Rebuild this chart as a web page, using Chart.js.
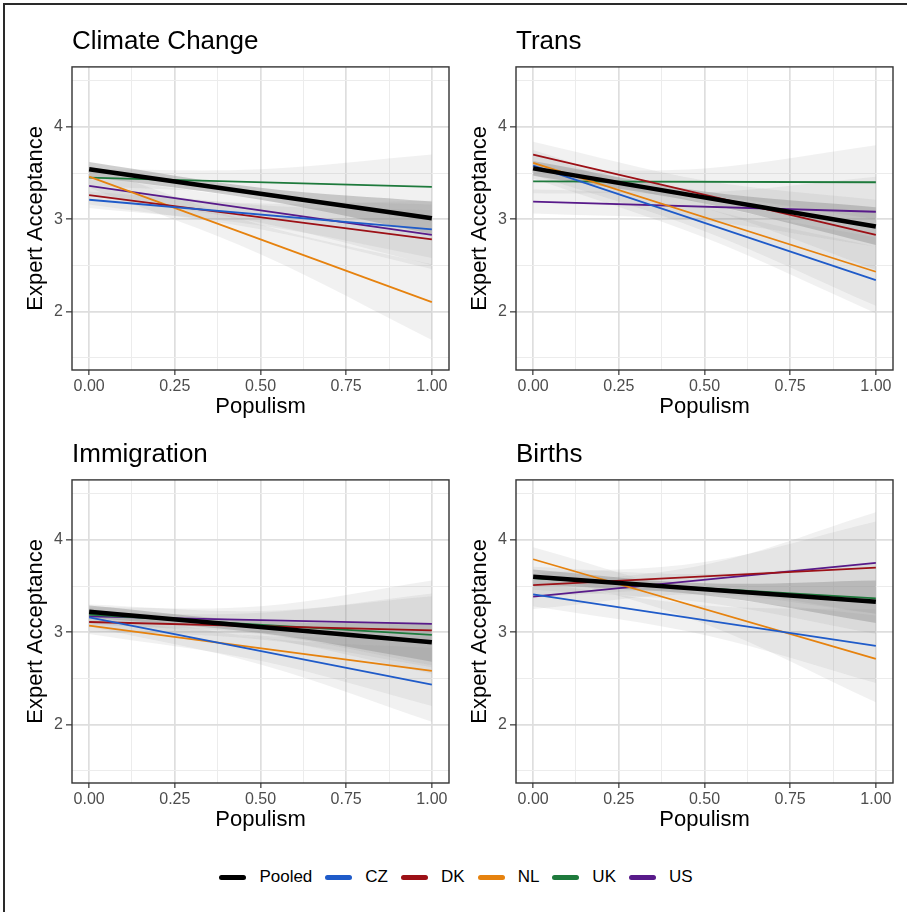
<!DOCTYPE html>
<html>
<head>
<meta charset="utf-8">
<script src="https://cdn.jsdelivr.net/npm/chart.js@4.4.1/dist/chart.umd.min.js"></script>
<style>
  body { margin: 0; background: #fff; font-family: "Liberation Sans", Arial, sans-serif; }
  #fig { position: relative; width: 907px; height: 912px; overflow: hidden; background: #fff; }
  #fig .frameTop { position: absolute; left: 3px; top: 3px; width: 904px; height: 2px; background: #2a2a2a; }
  #fig .frameLeft { position: absolute; left: 3px; top: 3px; width: 2px; height: 909px; background: #2a2a2a; }
  canvas { position: absolute; }
  #legend { position: absolute; left: 9px; width: 907px; top: 866px; height: 22px;
            display: flex; justify-content: center; align-items: center; font-size: 17px; color: #000; }
  #legend .key { width: 27px; height: 5px; border-radius: 3px; margin-right: 13px; }
  #legend .lab { margin-right: 13px; }
</style>
</head>
<body>
<div id="fig">
  <div class="frameTop"></div>
  <div class="frameLeft"></div>
  <div id="legend"></div>
</div>
<script>
// series and ticks
const series = ["Pooled", "CZ", "DK", "NL", "UK", "US"];
const seriesColors = ["#000000", "#1f5bc9", "#9c1016", "#e6820e", "#1e7a3c", "#581a8a"];
const xTicks = [0, 0.25, 0.5, 0.75, 1];
const xTickLabels = ["0.00", "0.25", "0.50", "0.75", "1.00"];
const xMinor = [0.125, 0.375, 0.625, 0.875];
const yTicks = [2, 3, 4];
const yMinor = [1.5, 2.5, 3.5, 4.5];
const ribbonX = [0, 0.5, 1];

// fitted lines: value at populism 0 and 1, one per series
const climateStart = [3.54, 3.21, 3.26, 3.46, 3.45, 3.36];
const climateEnd   = [3.01, 2.89, 2.78, 2.10, 3.35, 2.83];
const transStart   = [3.55, 3.58, 3.70, 3.61, 3.41, 3.19];
const transEnd     = [2.92, 2.34, 2.83, 2.43, 3.40, 3.08];
const immigStart   = [3.22, 3.16, 3.11, 3.07, 3.19, 3.17];
const immigEnd     = [2.89, 2.43, 3.02, 2.58, 2.97, 3.09];
const birthsStart  = [3.60, 3.41, 3.51, 3.79, 3.585, 3.385];
const birthsEnd    = [3.33, 2.85, 3.70, 2.71, 3.365, 3.75];

// confidence ribbons at ribbonX
const climateLow  = [[3.46, 3.21, 2.84], [3.12, 2.93, 2.58], [3.16, 2.89, 2.46], [3.34, 2.62, 1.69], [3.36, 3.26, 3.00], [3.26, 2.96, 2.50]];
const climateHigh = [[3.62, 3.34, 3.19], [3.30, 3.17, 3.20], [3.36, 3.15, 3.10], [3.58, 2.94, 2.51], [3.54, 3.54, 3.70], [3.46, 3.23, 3.16]];
const transLow    = [[3.47, 3.17, 2.72], [3.44, 2.80, 1.98], [3.57, 3.12, 2.45], [3.48, 2.87, 2.06], [3.28, 3.25, 3.00], [3.06, 2.98, 2.70]];
const transHigh   = [[3.63, 3.30, 3.13], [3.72, 3.12, 2.70], [3.84, 3.42, 3.21], [3.75, 3.17, 2.80], [3.54, 3.55, 3.80], [3.32, 3.29, 3.46]];
const immigLow    = [[3.16, 2.99, 2.68], [3.06, 2.65, 2.03], [3.01, 2.92, 2.62], [2.98, 2.69, 2.20], [3.10, 2.94, 2.55], [3.08, 2.98, 2.64]];
const immigHigh   = [[3.29, 3.12, 3.10], [3.26, 2.94, 2.83], [3.21, 3.21, 3.42], [3.16, 2.96, 2.96], [3.30, 3.23, 3.39], [3.27, 3.28, 3.56]];
const birthsLow   = [[3.52, 3.40, 3.10], [3.28, 2.97, 2.45], [3.38, 3.45, 3.20], [3.66, 3.09, 2.24], [3.46, 3.32, 2.98], [3.25, 3.41, 3.20]];
const birthsHigh  = [[3.68, 3.53, 3.56], [3.54, 3.29, 3.25], [3.64, 3.76, 4.20], [3.92, 3.41, 3.18], [3.71, 3.63, 3.75], [3.52, 3.73, 4.30]];

const FONT = "'Liberation Sans', Arial, sans-serif";

const panels = [
  { title: "Climate Change", start: climateStart, end: climateEnd, low: climateLow, high: climateHigh, left: 8,   top: 18 },
  { title: "Trans",          start: transStart,   end: transEnd,   low: transLow,   high: transHigh,   left: 452, top: 18 },
  { title: "Immigration",    start: immigStart,   end: immigEnd,   low: immigLow,   high: immigHigh,   left: 8,   top: 431 },
  { title: "Births",         start: birthsStart,  end: birthsEnd,  low: birthsLow,  high: birthsHigh,  left: 452, top: 431 },
];

const panelBorder = {
  id: "panelBorder",
  afterDatasetsDraw(chart) {
    const a = chart.chartArea, c = chart.ctx;
    c.save();
    c.strokeStyle = "#333333";
    c.lineWidth = 1.4;
    c.strokeRect(a.left, a.top, a.right - a.left, a.bottom - a.top);
    c.restore();
  }
};

function buildDatasets(p) {
  const ds = [];
  // lines on top: pooled first (lowest order)
  series.forEach((name, i) => {
    ds.push({
      label: name,
      data: [{ x: 0, y: p.start[i] }, { x: 1, y: p.end[i] }],
      borderColor: seriesColors[i],
      borderWidth: i === 0 ? 4.5 : 1.8,
      pointRadius: 0,
      fill: false,
      order: i === 0 ? 0 : 1
    });
  });
  // ribbons underneath
  series.forEach((name, i) => {
    const fillCol = i === 0 ? "rgba(140,140,140,0.42)" : "rgba(150,150,150,0.13)";
    ds.push({
      label: name + " upper",
      data: ribbonX.map((x, k) => ({ x: x, y: p.high[i][k] })),
      borderWidth: 0,
      borderColor: "rgba(0,0,0,0)",
      backgroundColor: fillCol,
      pointRadius: 0,
      tension: 0.35,
      fill: "+1",
      order: i === 0 ? 2 : 3
    });
    ds.push({
      label: name + " lower",
      data: ribbonX.map((x, k) => ({ x: x, y: p.low[i][k] })),
      borderWidth: 0,
      borderColor: "rgba(0,0,0,0)",
      pointRadius: 0,
      tension: 0.35,
      fill: false,
      order: i === 0 ? 2 : 3
    });
  });
  return ds;
}

const isMajor = (v, majors) => majors.some(m => Math.abs(m - v) < 1e-9);

panels.forEach(p => {
  const cv = document.createElement("canvas");
  cv.width = 447;
  cv.height = 402;
  cv.style.left = p.left + "px";
  cv.style.top = p.top + "px";
  document.getElementById("fig").appendChild(cv);

  new Chart(cv, {
    type: "line",
    data: { datasets: buildDatasets(p) },
    options: {
      responsive: false,
      animation: false,
      devicePixelRatio: 1,
      layout: { padding: { right: 6 } },
      plugins: {
        legend: { display: false },
        tooltip: { enabled: false },
        title: {
          display: true,
          text: p.title,
          align: "start",
          fullSize: false,
          color: "#000",
          font: { family: FONT, size: 26, weight: "normal", lineHeight: 1.15 },
          padding: { top: 9, bottom: 10 }
        }
      },
      scales: {
        x: {
          type: "linear",
          min: -0.05,
          max: 1.05,
          afterBuildTicks: s => { s.ticks = xTicks.concat(xMinor).sort((a, b) => a - b).map(v => ({ value: v })); },
          afterFit: s => { s.height = 50; },
          border: { display: false },
          grid: {
            color: c => isMajor(c.tick.value, xTicks) ? "#dedede" : "#ececec",
            lineWidth: c => isMajor(c.tick.value, xTicks) ? 1.7 : 1,
            tickColor: c => isMajor(c.tick.value, xTicks) ? "#333333" : "rgba(0,0,0,0)",
            tickLength: 5,
            tickWidth: 1.2
          },
          ticks: {
            autoSkip: false,
            maxRotation: 0,
            padding: 2,
            color: "#4d4d4d",
            font: { family: FONT, size: 16 },
            callback: v => { const k = xTicks.findIndex(m => Math.abs(m - v) < 1e-9); return k >= 0 ? xTickLabels[k] : ""; }
          },
          title: {
            display: true,
            text: "Populism",
            color: "#000",
            font: { family: FONT, size: 22 },
            padding: { top: 0, bottom: 0 }
          }
        },
        y: {
          type: "linear",
          min: 1.365,
          max: 4.65,
          afterBuildTicks: s => { s.ticks = yTicks.concat(yMinor).sort((a, b) => a - b).map(v => ({ value: v })); },
          afterFit: s => { s.width = 64; },
          border: { display: false },
          grid: {
            color: c => isMajor(c.tick.value, yTicks) ? "#dedede" : "#ececec",
            lineWidth: c => isMajor(c.tick.value, yTicks) ? 1.7 : 1,
            tickColor: c => isMajor(c.tick.value, yTicks) ? "#333333" : "rgba(0,0,0,0)",
            tickLength: 6,
            tickWidth: 1.2
          },
          ticks: {
            autoSkip: false,
            padding: 3,
            color: "#4d4d4d",
            font: { family: FONT, size: 16 },
            callback: v => isMajor(v, yTicks) ? String(v) : ""
          },
          title: {
            display: true,
            text: "Expert Acceptance",
            color: "#000",
            font: { family: FONT, size: 22 },
            padding: { top: 15, bottom: 0 }
          }
        }
      }
    },
    plugins: [panelBorder]
  });
});

// legend
const legend = document.getElementById("legend");
series.forEach((name, i) => {
  const key = document.createElement("span");
  key.className = "key";
  key.style.background = seriesColors[i];
  const lab = document.createElement("span");
  lab.className = "lab";
  lab.textContent = name;
  legend.appendChild(key);
  legend.appendChild(lab);
});
</script>
</body>
</html>
